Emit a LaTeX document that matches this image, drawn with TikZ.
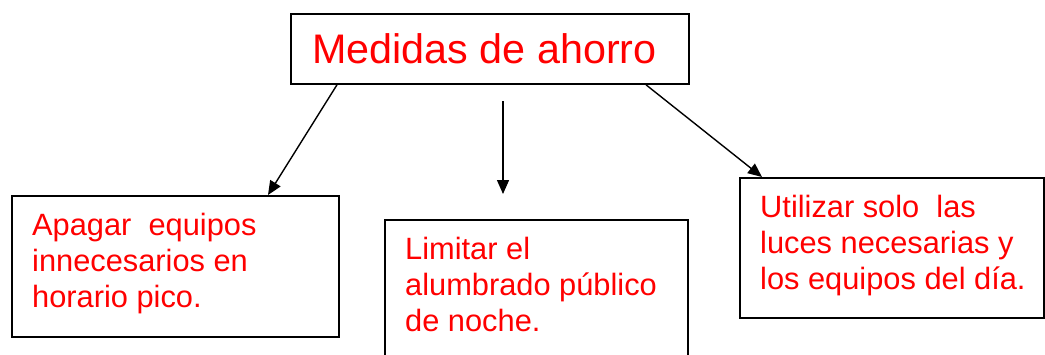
\documentclass[tikz,border=0pt]{standalone}
\usepackage{fontspec}
\setmainfont{Liberation Sans}
\usetikzlibrary{arrows.meta,calc}
\definecolor{txtred}{RGB}{255,0,0}
\newcommand{\fl}{\rule{0pt}{24pt}}
\tikzset{
  box/.style={draw=black, line width=1.8pt, rectangle, inner sep=0pt, anchor=north west},
  body/.style={text=txtred, font=\fontsize{30.8}{36}\selectfont, align=left, inner sep=0pt, anchor=north west},
  conn/.style={draw=black, line width=1.4pt, -{Triangle[length=14pt,width=12pt]}}
}
\begin{document}
\begin{tikzpicture}[x=1pt,y=-1pt]
\useasboundingbox (0,0) rectangle (1045,354);
\node[box, minimum width=398pt, minimum height=70pt] (top) at (290,13) {};
\node[box, minimum width=327pt, minimum height=141pt] (left) at (11,195) {};
\node[box, minimum width=303pt, minimum height=150pt] (mid) at (384,219) {};
\node[box, minimum width=304pt, minimum height=140pt] (right) at (739,177) {};
\node[text=txtred, font=\fontsize{41.3}{48}\selectfont, inner sep=0pt, anchor=base west] (title) at (312,63) {Medidas de ahorro};
\node[body] (tleft) at (32,211) {\fl Apagar\ \ equipos\\innecesarios en\\horario pico.};
\node[body] (tmid) at (405,235) {\fl Limitar el\\alumbrado público\\de noche.};
\node[body] (tright) at (760,193) {\fl Utilizar solo\ \ las\\luces necesarias y\\los equipos del día.};
\coordinate (m1) at (503,101);
\draw[conn] ([xshift=47pt]top.south west) -- ([xshift=257pt]left.north west);
\draw[conn] (m1) -- ([xshift=119pt,yshift=25pt]mid.north west);
\draw[conn] ([xshift=356pt]top.south west) -- ([xshift=23pt]right.north west);
\end{tikzpicture}
\end{document}
